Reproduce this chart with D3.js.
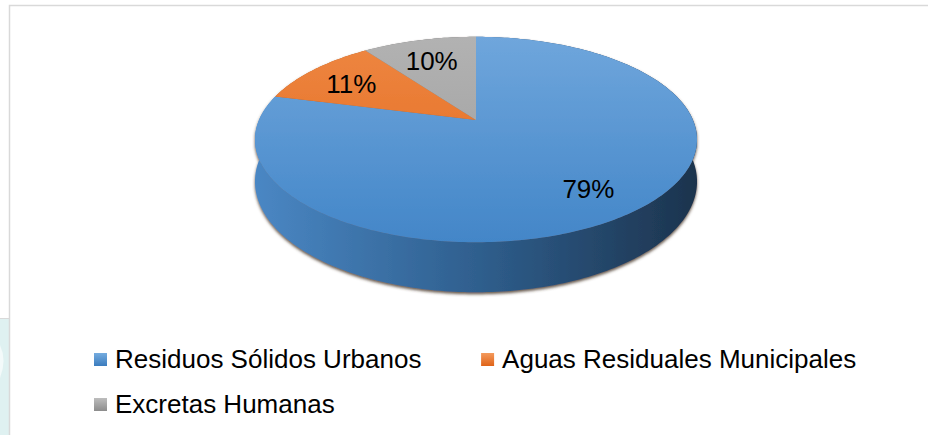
<!DOCTYPE html>
<html>
<head>
<meta charset="utf-8">
<script src="https://cdn.jsdelivr.net/npm/d3@7"></script>
<style>
  body { margin: 0; background: #fff; }
  svg { display: block; font-family: "Liberation Sans", Arial, sans-serif; }
</style>
</head>
<body>
<div class="graph"></div>
<script>
// Data
var categories = ["Residuos Sólidos Urbanos", "Aguas Residuales Municipales", "Excretas Humanas"];
var shares = [79, 11, 10];
var pctLabels = ["79%", "11%", "10%"];

// Colours per slice: top face (light, dark), side (left, mid, right)
var topColors = [["#6fa6dc", "#4386c8"], ["#ee8742", "#e2661a"], ["#b2b2b2", "#9c9c9c"]];
var sideColors = [["#4a87c4", "#2f5f8e", "#1c334d"], ["#c65f1d", "#9c4814", "#6e320d"], ["#8a8a8a", "#6a6a6a", "#4a4a4a"]];
var legendColors = [["#75acdf", "#3b7cbe"], ["#f49a5c", "#df6318"], ["#bdbdbd", "#8c8c8c"]];

var W = 928, H = 435;

// 3D pie geometry
var cx = 476, cy = 120, rx = 217, ry = 99, persp = 0.19, depth = 40.5;

function proj(angle, f, dz) {
  var u = Math.sin(angle) * f, v = Math.cos(angle) * f;
  var s = 1 / (1 + persp * v);
  return [cx + rx * u * s, cy - ry * v * s + (dz || 0) * s];
}

function arcPoints(a0, a1, f, dz) {
  var n = Math.max(2, Math.ceil((a1 - a0) / (Math.PI / 180)));
  return d3.range(n + 1).map(function(i) { return proj(a0 + (a1 - a0) * i / n, f, dz); });
}

var svg = d3.select(".graph").append("svg")
  .attr("width", W).attr("height", H);

var defs = svg.append("defs");

// Shadow below the disc
var filter = defs.append("filter").attr("id", "shadow")
  .attr("x", "-10%").attr("y", "-10%").attr("width", "120%").attr("height", "130%");
filter.append("feGaussianBlur").attr("in", "SourceAlpha").attr("stdDeviation", 1.6).attr("result", "blur");
filter.append("feOffset").attr("in", "blur").attr("dx", 0).attr("dy", 2).attr("result", "off");
filter.append("feFlood").attr("flood-color", "#4a3a2c").attr("flood-opacity", 0.85);
filter.append("feComposite").attr("in2", "off").attr("operator", "in").attr("result", "sh");
var merge = filter.append("feMerge");
merge.append("feMergeNode").attr("in", "sh");
merge.append("feMergeNode").attr("in", "SourceGraphic");

// gradients
topColors.forEach(function(c, i) {
  var g = defs.append("linearGradient").attr("id", "top" + i)
    .attr("gradientUnits", "userSpaceOnUse")
    .attr("x1", 0).attr("y1", cy - ry / (1 + persp)).attr("x2", 0).attr("y2", cy + ry / (1 - persp));
  g.append("stop").attr("offset", 0).attr("stop-color", c[0]);
  g.append("stop").attr("offset", 1).attr("stop-color", c[1]);
});
sideColors.forEach(function(c, i) {
  var g = defs.append("linearGradient").attr("id", "side" + i)
    .attr("gradientUnits", "userSpaceOnUse")
    .attr("x1", cx - rx * 1.02).attr("y1", 0).attr("x2", cx + rx * 1.02).attr("y2", 0);
  g.append("stop").attr("offset", 0).attr("stop-color", c[0]);
  g.append("stop").attr("offset", 0.5).attr("stop-color", c[1]);
  g.append("stop").attr("offset", 1).attr("stop-color", c[2]);
});
legendColors.forEach(function(c, i) {
  var g = defs.append("linearGradient").attr("id", "leg" + i)
    .attr("x1", 0).attr("y1", 0).attr("x2", 0).attr("y2", 1);
  g.append("stop").attr("offset", 0).attr("stop-color", c[0]);
  g.append("stop").attr("offset", 1).attr("stop-color", c[1]);
});

// Page decoration: left strip and chart frame
svg.append("rect").attr("x", 0).attr("y", 319).attr("width", 9).attr("height", H - 319).attr("fill", "#dff1f1");
svg.append("path").attr("d", "M0,345 Q7,360 0,378 Z").attr("fill", "#f3fafa");
svg.append("line").attr("x1", 0).attr("x2", 9).attr("y1", 318.5).attr("y2", 318.5).attr("stroke", "#d9d9d9");
svg.append("rect")
  .attr("x", 9.5).attr("y", 5.5).attr("width", W + 10).attr("height", H + 10)
  .attr("fill", "#fff").attr("stroke", "#d9d9d9").attr("stroke-width", 1.5);

// Pie angles
var pie = d3.pie().sort(null).value(function(d) { return d; });
var arcs = pie(shares);

var line = d3.line();
var pieG = svg.append("g").attr("filter", "url(#shadow)");

// side walls
pieG.selectAll(".side")
  .data(arcs)
  .enter().append("path")
  .attr("class", "side")
  .attr("d", function(d) {
    var top = arcPoints(d.startAngle, d.endAngle, 1, 0);
    var bot = arcPoints(d.startAngle, d.endAngle, 1, depth).reverse();
    return line(top.concat(bot)) + "Z";
  })
  .style("fill", function(d, i) { return "url(#side" + i + ")"; });

// top faces
pieG.selectAll(".slice")
  .data(arcs)
  .enter().append("path")
  .attr("class", "slice")
  .attr("d", function(d) {
    return line([proj(0, 0, 0)].concat(arcPoints(d.startAngle, d.endAngle, 1, 0))) + "Z";
  })
  .style("fill", function(d, i) { return "url(#top" + i + ")"; });

// percentage labels
svg.selectAll(".pct")
  .data(arcs)
  .enter().append("text")
  .attr("class", "pct")
  .attr("x", function(d) { return proj((d.startAngle + d.endAngle) / 2, 0.75, 0)[0]; })
  .attr("y", function(d) { return proj((d.startAngle + d.endAngle) / 2, 0.75, 0)[1]; })
  .attr("dy", "0.45em")
  .attr("text-anchor", "middle")
  .style("font-size", "26px")
  .style("fill", "#000")
  .text(function(d, i) { return pctLabels[i]; });

// legend, laid out in columns like the original
var legend = svg.append("g").attr("class", "legend");
var items = legend.selectAll(".item")
  .data(categories)
  .enter().append("g").attr("class", "item");

items.append("rect")
  .attr("x", 0).attr("y", -15)
  .attr("width", 13).attr("height", 13)
  .style("fill", function(d, i) { return "url(#leg" + i + ")"; });

items.append("text")
  .attr("x", 21).attr("y", 0)
  .style("font-size", "26px")
  .style("fill", "#000")
  .text(function(d) { return d; });

var widths = [];
items.each(function() { widths.push(21 + d3.select(this).select("text").node().getComputedTextLength()); });
var colW = d3.max(widths) + 12;
var legendX = 94, legendY = 368, rowH = 45, availW = W - 2 * legendX + 40;
var nCols = Math.max(1, Math.floor(availW / colW));

items.attr("transform", function(d, i) {
  return "translate(" + (legendX + (i % nCols) * colW) + "," + (legendY + Math.floor(i / nCols) * rowH) + ")";
});
</script>
</body>
</html>
